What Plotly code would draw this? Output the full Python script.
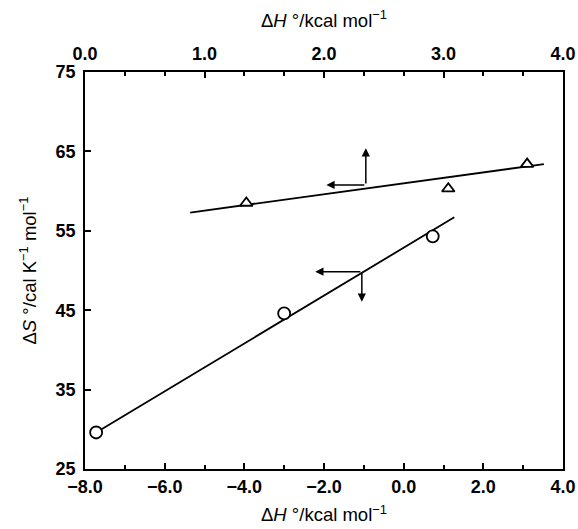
import plotly.graph_objects as go

# data
dH_lower = [-7.72, -3.0, 0.73]        # bottom axis, circles
dS_lower = [29.6, 44.6, 54.3]
dH_upper = [1.35, 3.04, 3.70]         # top axis, triangles
dS_upper = [58.5, 60.3, 63.4]
fit_lower_dH = [-7.72, 1.27]
fit_lower_dS = [29.6, 56.7]
fit_upper_dH = [0.88, 3.84]
fit_upper_dS = [57.3, 63.4]

bottom_ticks = [-8, -6, -4, -2, 0, 2, 4]
top_ticks = [0, 1, 2, 3, 4]
y_ticks = [25, 35, 45, 55, 65, 75]

# arrow annotations (start corner, end)
upper_arrows = [((2.35, 60.77), (2.35, 65.4)), ((2.35, 60.77), (2.02, 60.77))]
lower_arrows = [((-1.05, 49.85), (-2.22, 49.85)), ((-1.05, 49.85), (-1.05, 46.07))]

BLACK = "black"
tickfont = dict(family="Liberation Sans, Arial", size=18, color=BLACK, weight="bold")
titlefont = dict(family="Liberation Sans, Arial", size=18.5, color=BLACK)

fig = go.Figure()
fig.add_trace(go.Scatter(x=fit_lower_dH, y=fit_lower_dS, mode="lines",
                         line=dict(color=BLACK, width=1.8), xaxis="x", yaxis="y",
                         showlegend=False, hoverinfo="skip"))
fig.add_trace(go.Scatter(x=dH_lower, y=dS_lower, mode="markers",
                         marker=dict(symbol="circle", size=12, color="white",
                                     line=dict(color=BLACK, width=1.8)),
                         xaxis="x", yaxis="y", showlegend=False))
fig.add_trace(go.Scatter(x=fit_upper_dH, y=fit_upper_dS, mode="lines",
                         line=dict(color=BLACK, width=1.8), xaxis="x2", yaxis="y",
                         showlegend=False, hoverinfo="skip"))
fig.add_trace(go.Scatter(x=dH_upper, y=dS_upper, mode="markers",
                         marker=dict(symbol="triangle-up", size=11, color="white",
                                     line=dict(color=BLACK, width=1.8)),
                         xaxis="x2", yaxis="y", showlegend=False))

annotations = []
for (s, e) in upper_arrows:
    annotations.append(dict(x=e[0], y=e[1], ax=s[0], ay=s[1], xref="x2", yref="y",
                            axref="x2", ayref="y", text="", showarrow=True,
                            arrowhead=2, arrowsize=1.1, arrowwidth=1.5, arrowcolor=BLACK))
for (s, e) in lower_arrows:
    annotations.append(dict(x=e[0], y=e[1], ax=s[0], ay=s[1], xref="x", yref="y",
                            axref="x", ayref="y", text="", showarrow=True,
                            arrowhead=2, arrowsize=1.1, arrowwidth=1.5, arrowcolor=BLACK))

common = dict(showgrid=False, zeroline=False, showline=True, linecolor=BLACK,
              linewidth=1.6, ticks="inside", tickcolor=BLACK, tickwidth=1.5,
              tickfont=tickfont, automargin=False, ticklabeloverflow="allow")

fig.update_layout(
    width=578, height=529,
    margin=dict(l=85, r=15, t=72, b=60),
    paper_bgcolor="white", plot_bgcolor="white",
    showlegend=False,
    annotations=annotations,
    xaxis=dict(range=[-8, 4], tickvals=bottom_ticks, tickformat=".1f", ticklen=6,
               ticklabelstandoff=1,
               minor=dict(ticks="inside", dtick=1, tick0=-8, ticklen=4, tickcolor=BLACK, tickwidth=1.5),
               title=dict(text="Δ<i>H</i> °/kcal mol<sup>−1</sup>", font=titlefont, standoff=12),
               anchor="y", side="bottom", **common),
    xaxis2=dict(range=[0, 4], tickvals=top_ticks, tickformat=".1f", ticklen=6,
                ticklabelstandoff=3,
                minor=dict(ticks="inside", dtick=1/3, tick0=0, ticklen=4, tickcolor=BLACK, tickwidth=1.5),
                title=dict(text="Δ<i>H</i> °/kcal mol<sup>−1</sup>", font=titlefont, standoff=12),
                overlaying="x", anchor="y", side="top", **common),
    yaxis=dict(range=[25, 75], tickvals=y_ticks, ticklen=6, mirror=True,
               ticklabelstandoff=4,
               title=dict(text="Δ<i>S</i> °/cal K<sup>−1</sup> mol<sup>−1</sup>", font=titlefont, standoff=14),
               **common),
)

fig.write_html("out.html", config={"displayModeBar": False},
               post_script="document.body.style.margin='0';")
